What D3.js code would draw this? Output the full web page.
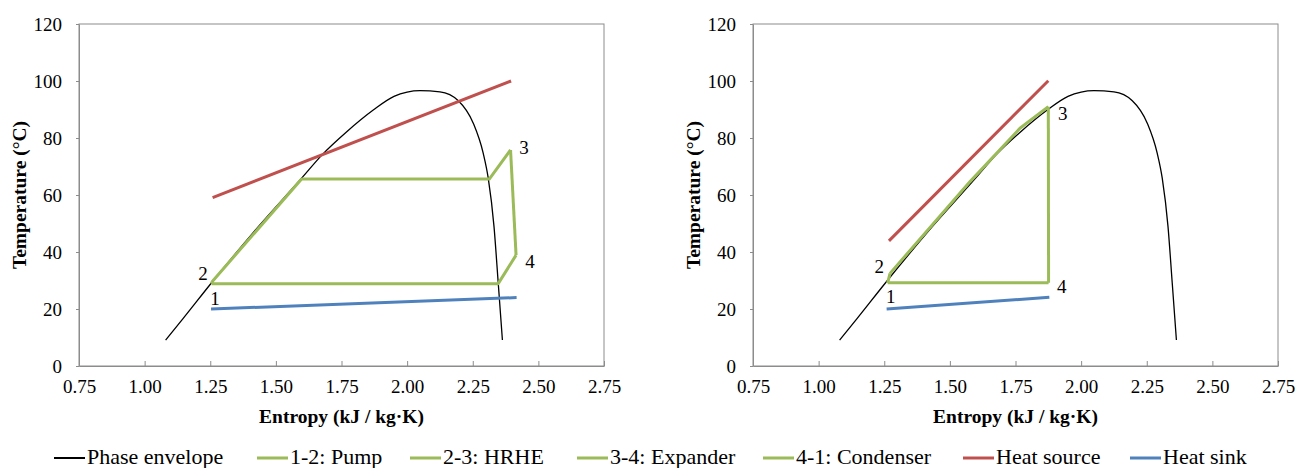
<!DOCTYPE html>
<html>
<head>
<meta charset="utf-8">
<script src="https://cdn.jsdelivr.net/npm/d3@7"></script>
<style>
    body { margin: 0; background: #fff; }
</style>
</head>
<body>
<div id="chart-area"></div>
<script>
// DATA  (entropy kJ/kg·K, temperature °C)
var xTicks = [0.75, 1.00, 1.25, 1.50, 1.75, 2.00, 2.25, 2.50, 2.75];
var yTicks = [0, 20, 40, 60, 80, 100, 120];

var envelope = [
    [1.080, 9.1], [1.147, 16.7], [1.255, 29.2], [1.420, 47.5], [1.598, 65.9],
    [1.675, 74.0], [1.770, 82.2], [1.871, 89.8], [1.950, 94.6], [2.000, 96.1],
    [2.049, 96.6], [2.125, 96.2], [2.195, 93.1], [2.252, 85.2], [2.290, 74.6],
    [2.309, 65.9], [2.331, 48.9], [2.347, 29.2], [2.363, 9.1]
];

// left case
var pumpA      = [[1.255, 28.9], [1.257, 29.6]];
var hrheA      = [[1.257, 29.6], [1.598, 65.6], [2.313, 65.6], [2.394, 75.8]];
var expanderA  = [[2.394, 75.8], [2.415, 38.9]];
var condenserA = [[2.415, 38.9], [2.347, 28.9], [1.255, 28.9]];
var sourceA    = [[1.259, 59.1], [2.396, 100.0]];
var sinkA      = [[1.253, 20.0], [2.417, 24.0]];
var pointsA    = [["1", 1.268, 23.9], ["2", 1.222, 32.6], ["3", 2.445, 76.7], ["4", 2.468, 36.7]];

// right case
var pumpB      = [[1.263, 29.2], [1.272, 32.5]];
var hrheB      = [[1.272, 32.5], [1.577, 64.7], [1.767, 83.4], [1.875, 91.0]];
var expanderB  = [[1.875, 91.0], [1.876, 29.2]];
var condenserB = [[1.876, 29.2], [1.263, 29.2]];
var sourceB    = [[1.268, 43.9], [1.875, 100.1]];
var sinkB      = [[1.259, 20.0], [1.879, 24.1]];
var pointsB    = [["1", 1.275, 24.3], ["2", 1.231, 34.8], ["3", 1.930, 88.7], ["4", 1.926, 27.8]];

var legendItems = [
    ["Phase envelope", "#000000"], ["1-2: Pump", "#9BBB59"], ["2-3: HRHE", "#9BBB59"],
    ["3-4: Expander", "#9BBB59"], ["4-1: Condenser", "#9BBB59"],
    ["Heat source", "#C0504D"], ["Heat sink", "#4F81BD"]
];

var GREEN = "#9BBB59", RED = "#C0504D", BLUE = "#4F81BD", AXIS = "#8c8c8c";
var SERIF = "'Liberation Serif', 'Times New Roman', Times, 'DejaVu Serif', serif";

var svg = d3.select("#chart-area").append("svg")
    .attr("width", 1307)
    .attr("height", 468)
    .style("font-family", SERIF);

function drawChart(left, right, series) {
    var top = 24, bottom = 366;

    var x = d3.scaleLinear().domain([0.75, 2.75]).range([left, right]);
    var y = d3.scaleLinear().domain([0, 120]).range([bottom, top]);

    var g = svg.append("g");

    // frame
    g.append("rect")
        .attr("x", left).attr("y", top)
        .attr("width", right - left).attr("height", bottom - top)
        .attr("fill", "none")
        .attr("stroke", AXIS)
        .attr("stroke-width", 1);

    // x axis, ticks pointing inward
    var xAxis = g.append("g")
        .attr("transform", "translate(0," + bottom + ")")
        .call(d3.axisBottom(x).tickValues(xTicks).tickFormat(d3.format(".2f"))
            .tickSizeInner(-5).tickSizeOuter(0).tickPadding(14));
    xAxis.attr("font-family", null).attr("font-size", null);
    xAxis.select(".domain").attr("stroke", AXIS);
    xAxis.selectAll(".tick line").attr("stroke", AXIS);
    xAxis.selectAll(".tick text")
        .style("font-family", SERIF)
        .style("font-size", "19px")
        .attr("fill", "#000");

    var yAxis = g.append("g")
        .attr("transform", "translate(" + left + ",0)")
        .call(d3.axisLeft(y).tickValues(yTicks)
            .tickSizeInner(3).tickSizeOuter(0).tickPadding(14));
    yAxis.attr("font-family", null).attr("font-size", null);
    yAxis.select(".domain").attr("stroke", AXIS);
    yAxis.selectAll(".tick line").attr("stroke", AXIS);
    yAxis.selectAll(".tick text")
        .style("font-family", SERIF)
        .style("font-size", "19px")
        .attr("fill", "#000");

    // axis titles
    g.append("text")
        .attr("x", (left + right) / 2)
        .attr("y", 423)
        .attr("text-anchor", "middle")
        .style("font-family", SERIF)
        .style("font-weight", "bold")
        .style("font-size", "19.5px")
        .text("Entropy (kJ / kg·K)");

    g.append("text")
        .attr("transform", "translate(" + (left - 53) + "," + ((top + bottom) / 2) + ") rotate(-90)")
        .attr("text-anchor", "middle")
        .style("font-family", SERIF)
        .style("font-weight", "bold")
        .style("font-size", "19.5px")
        .text("Temperature (°C)");

    var line = d3.line()
        .x(d => x(d[0]))
        .y(d => y(d[1]));

    var smooth = d3.line()
        .x(d => x(d[0]))
        .y(d => y(d[1]))
        .curve(d3.curveMonotoneX);

    g.append("path")
        .attr("d", smooth(envelope))
        .attr("fill", "none")
        .attr("stroke", "#000")
        .attr("stroke-width", 1.3);

    [series.source, series.sink].forEach((s, i) => {
        g.append("path")
            .attr("d", line(s))
            .attr("fill", "none")
            .attr("stroke", i == 0 ? RED : BLUE)
            .attr("stroke-width", 3);
    });

    [series.pump, series.hrhe, series.expander, series.condenser].forEach(s => {
        g.append("path")
            .attr("d", line(s))
            .attr("fill", "none")
            .attr("stroke", GREEN)
            .attr("stroke-width", 3)
            .attr("stroke-linejoin", "round");
    });

    g.selectAll(".pt")
        .data(series.points)
        .enter().append("text")
        .attr("class", "pt")
        .attr("x", d => x(d[1]))
        .attr("y", d => y(d[2]))
        .attr("dy", "0.35em")
        .attr("text-anchor", "middle")
        .style("font-family", SERIF)
        .style("font-size", "19px")
        .text(d => d[0]);
}

drawChart(79, 604, {
    pump: pumpA, hrhe: hrheA, expander: expanderA, condenser: condenserA,
    source: sourceA, sink: sinkA, points: pointsA
});

drawChart(753, 1278, {
    pump: pumpB, hrhe: hrheB, expander: expanderB, condenser: condenserB,
    source: sourceB, sink: sinkB, points: pointsB
});

// LEGEND
var legendX = [54, 257, 410, 577, 763, 963, 1130];
var legend = svg.append("g").attr("transform", "translate(0,458)");

legendItems.forEach((item, i) => {
    legend.append("line")
        .attr("x1", legendX[i]).attr("x2", legendX[i] + 31)
        .attr("y1", 0).attr("y2", 0)
        .attr("stroke", item[1])
        .attr("stroke-width", item[1] == "#000000" ? 2 : 3);
    legend.append("text")
        .attr("x", legendX[i] + 33)
        .attr("y", 6)
        .style("font-family", SERIF)
        .style("font-size", "22px")
        .text(item[0]);
});
</script>
</body>
</html>
